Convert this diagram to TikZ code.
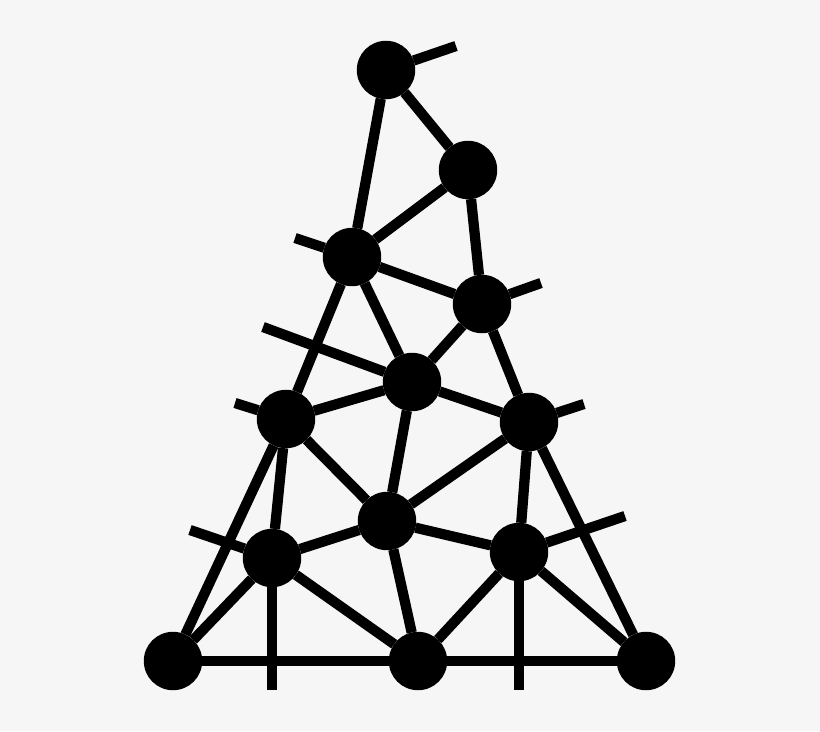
\documentclass[tikz,border=0pt]{standalone}
\definecolor{paper}{RGB}{246,246,246}
\begin{document}
\begin{tikzpicture}[x=0.025cm,y=-0.025cm,line width=7.3pt,
       main node/.style={circle,fill=black,inner sep=0pt,outer sep=0pt,minimum size=1.46cm}]

      \fill[paper] (0,0) rectangle (820,731);

      \node[main node] at (386,70) (1) {};
      \node[main node] at (468,170) (2) {};
      \node[main node] at (352,257) (3) {};
      \node[main node] at (482,304) (4) {};
      \node[main node] at (412,382) (5) {};
      \node[main node] at (286,419) (6) {};
      \node[main node] at (529,422) (7) {};
      \node[main node] at (387,521) (8) {};
      \node[main node] at (272,558) (9) {};
      \node[main node] at (519,552) (10) {};
      \node[main node] at (173,661) (11) {};
      \node[main node] at (418,661) (12) {};
      \node[main node] at (646,661) (13) {};

      % loose ends
      \coordinate (s1) at (456,46);
      \coordinate (s3) at (295,238);
      \coordinate (s4) at (541,283);
      \coordinate (s5) at (263,327);
      \coordinate (s6) at (235,403);
      \coordinate (s7) at (584,404);
      \coordinate (s9) at (190,530);
      \coordinate (s9b) at (272,690);
      \coordinate (s10) at (625,516);
      \coordinate (s10b) at (519,690);

      \path
      (1) edge (2)
      (1) edge (3)
      (2) edge (3)
      (2) edge (4)
      (3) edge (4)
      (3) edge (5)
      (3) edge (6)
      (4) edge (5)
      (4) edge (7)
      (5) edge (6)
      (5) edge (7)
      (5) edge (8)
      (6) edge (8)
      (6) edge (9)
      (6) edge (11)
      (7) edge (8)
      (7) edge (10)
      (7) edge (13)
      (8) edge (9)
      (8) edge (10)
      (8) edge (12)
      (9) edge (11)
      (9) edge (12)
      (10) edge (12)
      (10) edge (13)
      (11) edge (12)
      (12) edge (13)
      ;
      \path
      (1) edge (s1)
      (3) edge (s3)
      (4) edge (s4)
      (5) edge (s5)
      (6) edge (s6)
      (7) edge (s7)
      (9) edge (s9)
      (9) edge (s9b)
      (10) edge (s10)
      (10) edge (s10b)
      ;

    \end{tikzpicture}
\end{document}
